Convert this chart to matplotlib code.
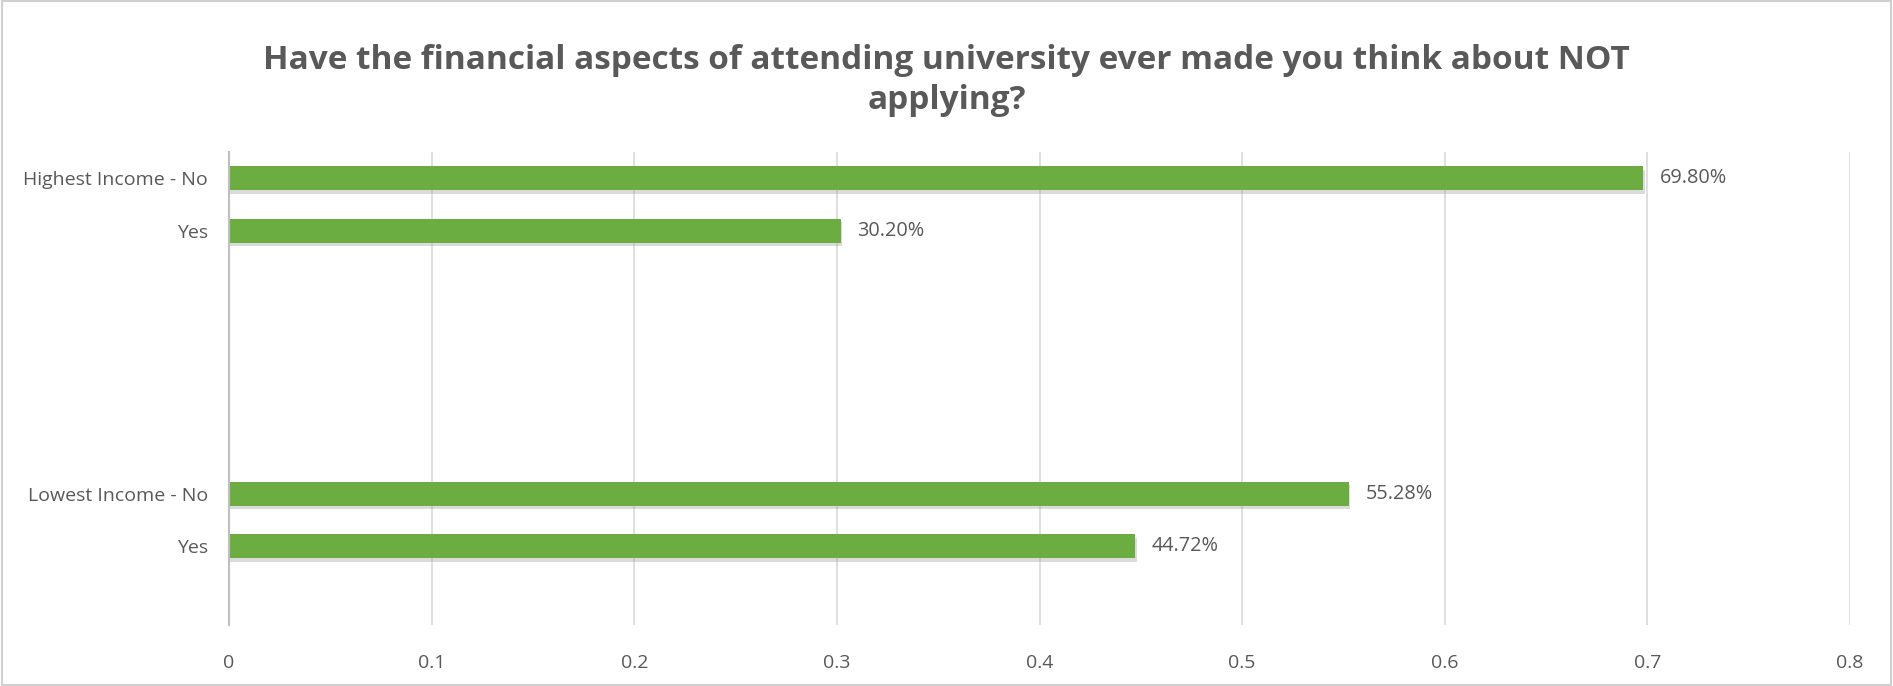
import matplotlib
matplotlib.use("Agg")
import matplotlib.pyplot as plt
import matplotlib.patheffects as pe
from matplotlib.patches import Rectangle

# ── Data ──────────────────────────────────────────────────────────────────────
categories = ["Highest Income - No", "Yes", "", "", "", "",
              "Lowest Income - No", "Yes", ""]
values = [0.698, 0.302, None, None, None, None, 0.5528, 0.4472, None]
value_labels = ["69.80%", "30.20%", "", "", "", "", "55.28%", "44.72%", ""]
xticks = [0, 0.1, 0.2, 0.3, 0.4, 0.5, 0.6, 0.7, 0.8]
xtick_labels = ["0", "0.1", "0.2", "0.3", "0.4", "0.5", "0.6", "0.7", "0.8"]
title = "Have the financial aspects of attending university ever made you think about NOT\napplying?"

TEXT = "#595959"
GREEN = "#6cad42"
GRID = "#d9d9d9"

plt.rcParams["font.family"] = ["Open Sans", "DejaVu Sans"]

fig = plt.figure(figsize=(18.93, 6.86), dpi=100)
ax = fig.add_axes([229 / 1893, 1 - 625 / 686, (1850 - 229) / 1893, (625 - 152) / 686])

# chart border
fig.patches.append(Rectangle((0.001, 0.002), 0.998, 0.996, transform=fig.transFigure,
                             fill=False, edgecolor="#d0d0d0", linewidth=1.5))

ypos = list(range(len(categories)))
for y, v, lab in zip(ypos, values, value_labels):
    if v is None:
        continue
    bar = ax.barh(y, v, height=0.46, color=GREEN, zorder=3)[0]
    bar.set_path_effects([pe.SimplePatchShadow(offset=(1, -2.5), shadow_rgbFace="#999999", alpha=0.35),
                          pe.Normal()])
    ax.text(v + 0.008, y, lab, va="center", ha="left", fontsize=14.3, color=TEXT)

ax.set_ylim(len(categories) - 0.5, -0.5)
ax.set_xlim(0, 0.8)
ax.set_yticks(ypos)
ax.set_yticklabels(categories, fontsize=14, color=TEXT)
ax.set_xticks(xticks)
ax.set_xticklabels(xtick_labels, fontsize=14, color=TEXT)
ax.tick_params(axis="both", length=0)
ax.tick_params(axis="y", pad=15)
ax.tick_params(axis="x", pad=21)

ax.grid(axis="x", color=GRID, linewidth=1.2, zorder=0)
for s in ["top", "right", "bottom"]:
    ax.spines[s].set_visible(False)
ax.spines["left"].set_color("#bfbfbf")
ax.spines["left"].set_linewidth(1.5)
ax.spines["left"].set_zorder(4)

fig.text(0.5, 0.883, title, ha="center", va="center", fontsize=24, fontweight="bold",
         color=TEXT, linespacing=1.3)

fig.savefig("out.png", dpi=100)
